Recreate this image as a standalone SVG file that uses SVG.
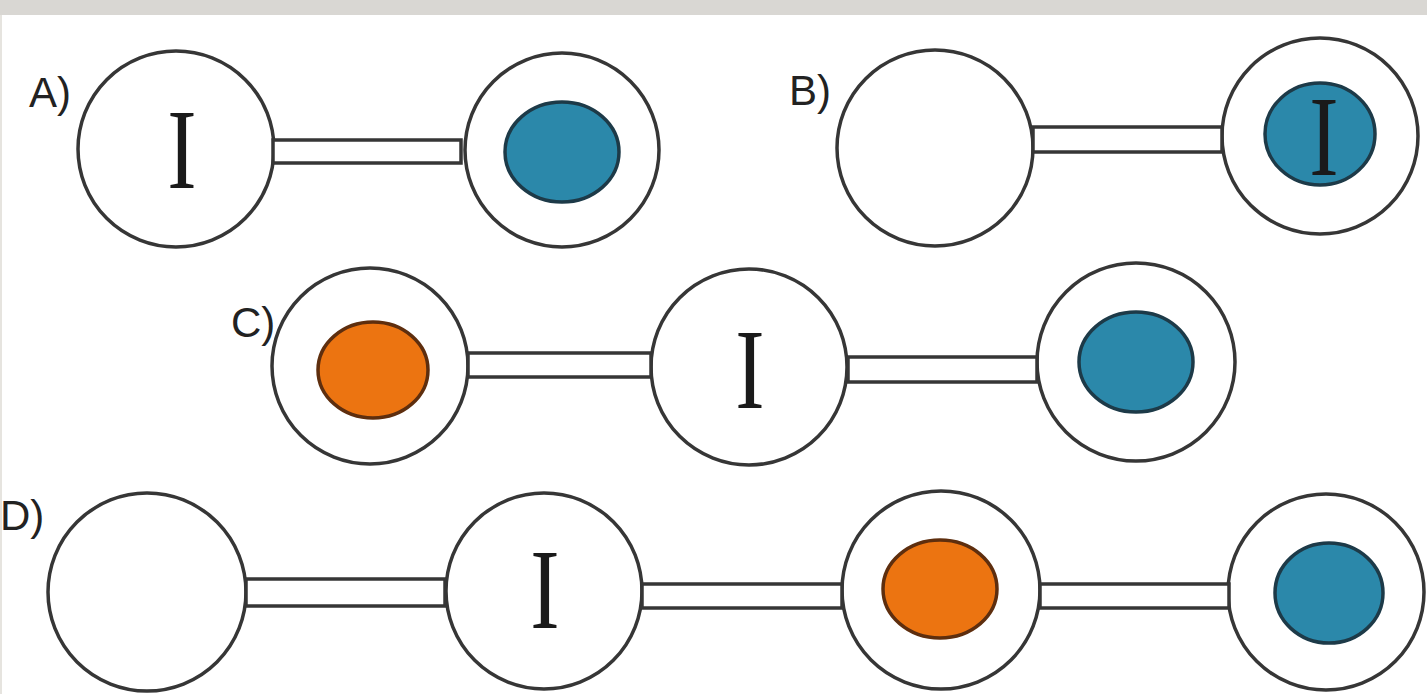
<svg xmlns="http://www.w3.org/2000/svg" width="1427" height="694" viewBox="0 0 1427 694">
<style>
.ring{fill:#fff;stroke:#363636;stroke-width:3.5}
.bond{fill:#fff;stroke:#363636;stroke-width:3.5}
.blue{fill:#2b88aa;stroke:#1d3a48;stroke-width:3.5}
.orange{fill:#ec7411;stroke:#5e2e0e;stroke-width:3.5}
.iso{font-family:"Liberation Serif",serif;font-size:88px;fill:#1a1a1a;text-anchor:middle}
.lbl{font-family:"Liberation Sans",sans-serif;font-size:42px;fill:#222}
</style>
<rect x="0" y="0" width="1427" height="694" fill="#fff"/>
<rect x="0" y="0" width="1427" height="15" fill="#d9d7d3"/>
<rect x="0" y="15" width="2" height="679" fill="#e6e4df"/>

<g id="labels">
<text class="lbl" x="29" y="107">A)</text>
<text class="lbl" x="789" y="105">B)</text>
<text class="lbl" x="231" y="337">C)</text>
<text class="lbl" x="0" y="530">D)</text>
</g>

<g id="A1"><circle class="ring" cx="176" cy="149" r="98"/><text class="iso" transform="translate(182,188) scale(1,1.3)">I</text></g>
<g id="A2"><circle class="ring" cx="562" cy="150" r="97"/><ellipse class="blue" cx="562" cy="152" rx="57" ry="50"/></g>

<g id="B1"><circle class="ring" cx="935" cy="148" r="98"/></g>
<g id="B2"><circle class="ring" cx="1320" cy="136" r="98"/><ellipse class="blue" cx="1320" cy="134" rx="55" ry="51"/><text class="iso" transform="translate(1324,175) scale(1,1.3)" fill="#10222b">I</text></g>

<g id="C1"><circle class="ring" cx="370" cy="366" r="98"/><ellipse class="orange" cx="373" cy="370" rx="55" ry="48"/></g>
<g id="C2"><circle class="ring" cx="749" cy="367" r="98"/><text class="iso" transform="translate(750,408) scale(1,1.3)">I</text></g>
<g id="C3"><circle class="ring" cx="1136" cy="362" r="99"/><ellipse class="blue" cx="1136" cy="362" rx="57" ry="50"/></g>

<g id="D1"><circle class="ring" cx="147" cy="592" r="99"/></g>
<g id="D2"><circle class="ring" cx="544" cy="591" r="98"/><text class="iso" transform="translate(545,628) scale(1,1.3)">I</text></g>
<g id="D3"><circle class="ring" cx="941" cy="590" r="99"/><ellipse class="orange" cx="940" cy="589" rx="57" ry="49"/></g>
<g id="D4"><circle class="ring" cx="1326" cy="592" r="98"/><ellipse class="blue" cx="1329" cy="593" rx="54" ry="50"/></g>

<g id="connectors">
<rect class="bond" x="273" y="140" width="188" height="23"/>
<rect class="bond" x="1033" y="127" width="189" height="25"/>
<rect class="bond" x="468" y="353" width="183" height="24"/>
<rect class="bond" x="848" y="357" width="189" height="25"/>
<rect class="bond" x="246" y="579" width="199" height="27"/>
<rect class="bond" x="642" y="584" width="200" height="24"/>
<rect class="bond" x="1040" y="584" width="189" height="24"/>
</g>
</svg>
